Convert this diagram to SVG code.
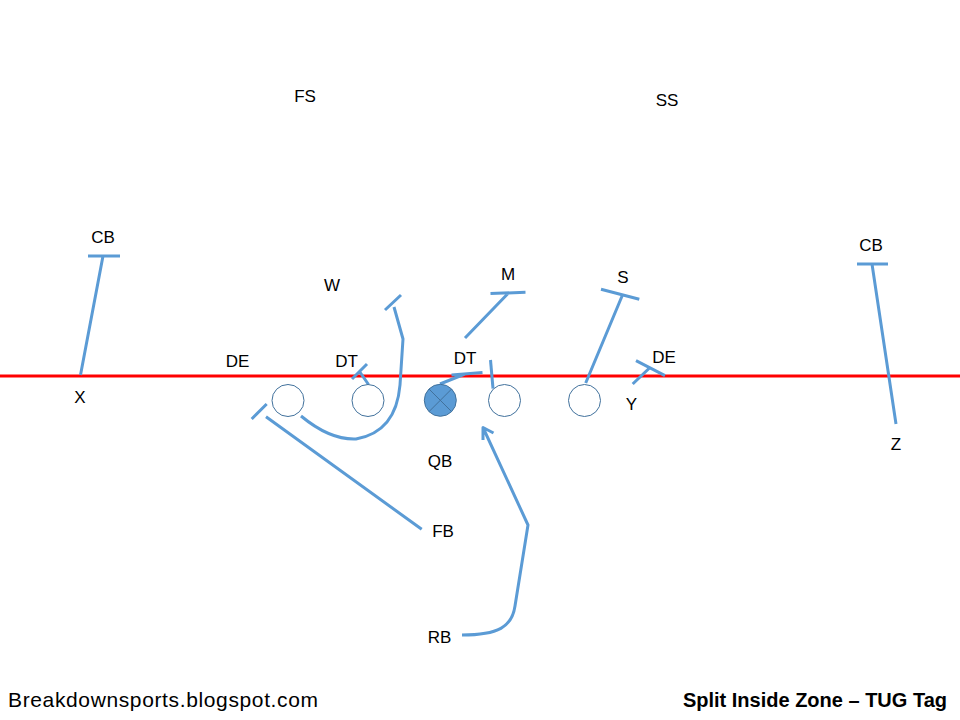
<svg xmlns="http://www.w3.org/2000/svg" width="960" height="720" viewBox="0 0 960 720">
<style>
.lbl{font-family:"Liberation Sans",Arial,sans-serif;font-size:17px;fill:#000;text-anchor:middle}
.route{fill:none;stroke:#5B9BD5;stroke-width:3;stroke-linecap:butt;stroke-linejoin:round}
.pl{fill:#fff;stroke:#41719C;stroke-width:1}
.foot{font-family:"Liberation Sans",Arial,sans-serif;font-size:21px;fill:#000}
</style>
<rect width="960" height="720" fill="#fff"/>
<g id="los"><line x1="0" y1="376" x2="960" y2="376" stroke="#FF0000" stroke-width="3"/></g>
<g id="connectors">
  <!-- left CB -->
  <path class="route" d="M88,256 L120,256 M103,256 L80.5,375"/>
  <!-- right CB -->
  <path class="route" d="M857,264 L888,264 M872,264 L896,424"/>
  <!-- W -->
  <path class="route" d="M385,310 L401,295 M394,307 L403,339 L400,385 Q396,432 356,439 Q330,440 301,416"/>
  <!-- DT left -->
  <path class="route" d="M352,379 L367,364 M359.5,371.5 L368.5,384.5"/>
  <!-- center DT / QB -->
  <path class="route" d="M440,384 L465,374 M451.5,375 L482.5,372.5"/>
  <!-- circle 4 -->
  <path class="route" d="M490.5,360 L493,388.5"/>
  <!-- M -->
  <path class="route" d="M465,338 L508,293.5 M490.5,293.5 L525.5,292.3"/>
  <!-- S -->
  <path class="route" d="M585.7,383 L622.7,294.5 M601,289.3 L639.3,299.3"/>
  <!-- Y / DE -->
  <path class="route" d="M632.7,384 L650,367.5 M636,360.7 L665,375.7"/>
  <!-- FB -->
  <path class="route" d="M251.7,419 L266.7,404 M266,416.7 L421.7,529.3"/>
  <!-- RB -->
  <path class="route" d="M462,635 C498,635 512,627 515,606 L528,525 L483,427.5 M483,440 L483,427.5 L493.5,433"/>
</g>
<g id="ol1"><circle class="pl" cx="288" cy="400.5" r="16"/></g>
<g id="ol2"><circle class="pl" cx="368" cy="400.5" r="16"/></g>
<g id="center"><circle cx="440.3" cy="400.3" r="16" fill="#5B9BD5" stroke="#41719C" stroke-width="1"/>
<path d="M429,389 L451.6,411.6 M451.6,389 L429,411.6" stroke="#41719C" stroke-width="1"/></g>
<g id="ol4"><circle class="pl" cx="504.5" cy="400.5" r="16"/></g>
<g id="ol5"><circle class="pl" cx="584.5" cy="400.5" r="16"/></g>
<g id="labels">
  <text id="FS" class="lbl" x="305" y="102">FS</text>
  <text id="SS" class="lbl" x="667" y="106">SS</text>
  <text id="CB1" class="lbl" x="103" y="243">CB</text>
  <text id="X" class="lbl" x="80" y="403">X</text>
  <text id="CB2" class="lbl" x="871" y="251">CB</text>
  <text id="Z" class="lbl" x="896" y="450">Z</text>
  <text id="W" class="lbl" x="332" y="291">W</text>
  <text id="M" class="lbl" x="508" y="280">M</text>
  <text id="S" class="lbl" x="623" y="283">S</text>
  <text id="DE1" class="lbl" x="237.5" y="367">DE</text>
  <text id="DT1" class="lbl" x="346.5" y="367">DT</text>
  <text id="DT2" class="lbl" x="465" y="364">DT</text>
  <text id="DE2" class="lbl" x="664" y="363">DE</text>
  <text id="Y" class="lbl" x="631.5" y="410">Y</text>
  <text id="QB" class="lbl" x="440" y="467">QB</text>
  <text id="FB" class="lbl" x="443" y="537">FB</text>
  <text id="RB" class="lbl" x="439.5" y="643">RB</text>
</g>
<g id="footer">
  <text class="foot" x="8" y="707" textLength="310" lengthAdjust="spacing">Breakdownsports.blogspot.com</text>
  <text class="foot" x="947" y="707" style="font-weight:bold;font-size:20px;text-anchor:end">Split Inside Zone – TUG Tag</text>
</g>
</svg>
